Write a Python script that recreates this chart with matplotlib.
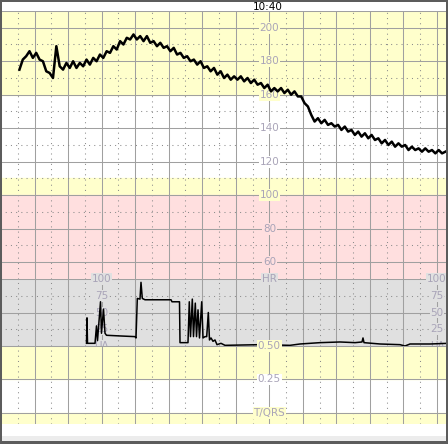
import numpy as np
import matplotlib.pyplot as plt
from matplotlib.patches import Rectangle

# fetal heart rate (bpm), sampled every 0.1 min from 0.55 min
fhr_start = 0.55
fhr_step = 0.1
fhr_bpm = [
    175, 181, 183, 186, 182, 185, 181, 180, 174, 173, 170, 189, 177, 175, 179, 176,
    180, 176, 179, 177, 181, 178, 182, 180, 184, 182, 186, 185, 189, 187, 192, 190,
    194, 193, 196, 193, 195, 192, 195, 191, 192, 189, 191, 188, 189, 186, 188, 184,
    185, 182, 183, 180, 181, 178, 180, 176, 177, 174, 176, 172, 174, 170, 172, 169,
    171, 169, 171, 168, 170, 167, 169, 166, 167, 164, 166, 162, 164, 162, 164, 161,
    163, 160, 162, 159, 159, 155, 153, 148, 144, 146, 143, 145, 142, 143, 141, 142,
    139, 141, 138, 139, 136, 138, 135, 137, 134, 136, 133, 134, 131, 133, 130, 132,
    129, 131, 129, 130, 127, 129, 127, 128, 126, 128, 126, 127, 125, 127, 125, 126,
]

# uterine activity
ua_min = [2.549, 2.564, 2.579, 2.803, 2.847, 2.877, 2.967, 2.996, 3.056, 3.101,
          3.146, 3.548, 3.995, 4.025, 4.064, 4.144, 4.174, 4.213, 4.293, 5.069,
          5.098, 5.322, 5.337, 5.575, 5.614, 5.650, 5.704, 5.739, 5.793, 5.829,
          5.874, 5.918, 5.984, 6.023, 6.082, 6.133, 6.181, 6.216, 6.261, 6.321,
          6.380, 6.440, 6.559, 6.679, 7.722, 8.617, 8.915, 9.511, 10.107, 10.555,
          10.763, 10.793, 10.823, 11.300, 11.896, 12.045, 12.195, 12.791, 13.327]
ua_val = [4, 42, 4, 4, 30, 8, 66, 19, 55, 19,
          16, 15, 14, 12, 71, 70, 95, 71, 69, 69,
          66, 66, 5, 5, 66, 14, 70, 14, 64, 14,
          54, 12, 66, 12, 14, 14, 50, 9, 12, 7,
          9, 2, 4, 1, 2, 1, 3, 5, 6, 5,
          6, 12, 5, 3, 2, 0, 3, 3, 4]

hr_ticks = [200, 180, 160, 140, 120, 100, 80, 60]
ua_ticks = [100, 75, 50, 25]
tqrs_ticks = [0.5, 0.25]
time_label = '10:40'

YELLOW = '#ffffcc'
PINK = '#ffdfdf'
GRAY = '#e0e0e0'
GRID = '#a0a0a0'
DOT = '#8c8c8c'
LABEL = '#a9a4b8'
BORDER = '#5c5c5c'

W, H = 448, 444
PX_MIN = 33.54  # pixels per minute

fig = plt.figure(figsize=(W / 100, H / 100), dpi=100)
fig.patch.set_facecolor('white')


def panel(top, bottom, ylim):
    ax = fig.add_axes([0, 1 - bottom / H, 1, (bottom - top) / H])
    ax.set_xlim(-1 / PX_MIN, 447 / PX_MIN)
    ax.set_ylim(*ylim)
    ax.axis('off')
    for m in range(14):
        ax.axvline(m, color=GRID, lw=0.75, zorder=1)
        ax.axvline(m + 0.5, color=DOT, lw=0.75, ls=(0, (1, 4)), zorder=1)
    return ax


def label(ax, x, y, s, bg):
    ax.text(x, y, s, ha='center', va='center', fontsize=7.5, color=LABEL, zorder=2,
            bbox=dict(facecolor=bg, edgecolor='none', pad=0.6))


# FHR panel
ax1 = panel(11, 279, (50, 210))
ax1.axhspan(160, 210, color=YELLOW, zorder=0)
ax1.axhspan(100, 110, color=YELLOW, zorder=0)
ax1.axhspan(50, 100, color=PINK, zorder=0)
for v in range(60, 211, 20):
    ax1.axhline(v, color=GRID, lw=0.75, zorder=1)
ax1.axhline(210, color=GRID, lw=0.75, zorder=1)
for v in range(70, 200, 20):
    ax1.axhline(v, color=DOT, lw=0.75, ls=(0, (1, 4)), zorder=1)
for v in hr_ticks:
    bg = YELLOW if v >= 160 or v in (100,) else (PINK if v < 100 else 'white')
    label(ax1, 8, v, str(v), bg)
fhr_t = fhr_start + fhr_step * np.arange(len(fhr_bpm))
ax1.plot(fhr_t, fhr_bpm, color='black', lw=1.8, zorder=3)

# UA panel
ax2 = panel(279, 346, (0, 100))
ax2.axhspan(0, 100, color=GRAY, zorder=0)
for v in (0, 50, 100):
    ax2.axhline(v, color=GRID, lw=0.75, zorder=1)
for v in (25, 75):
    ax2.axhline(v, color=DOT, lw=0.75, ls=(0, (1, 4)), zorder=1)
for x in (3, 13):
    for v in ua_ticks:
        label(ax2, x, v, str(v), GRAY)
    label(ax2, x, 0, 'UA', GRAY)
label(ax2, 8, 100, 'HR', GRAY)
ax2.plot(ua_min, ua_val, color='black', lw=1.1, zorder=3)

# T/QRS panel
ax3 = panel(346, 424, (-0.0821, 0.5))
ax3.axhspan(0.25, 0.5, color=YELLOW, zorder=0)
ax3.axhspan(-0.1, 0, color=YELLOW, zorder=0)
for v in (0, 0.25, 0.5):
    ax3.axhline(v, color=GRID, lw=0.75, zorder=1)
for v in tqrs_ticks:
    label(ax3, 8, v, '%.2f' % v, YELLOW if v == 0.5 else 'white')
label(ax3, 8, 0, 'T/QRS', YELLOW)

# header time and frame
fig.text(268 / W, 1 - 9.5 / H, time_label, ha='center', va='baseline', fontsize=7.5, color='black')
fig.add_artist(Rectangle((0, 3 / H), 1, 5 / H, transform=fig.transFigure,
                         facecolor='#ececec', edgecolor='none', zorder=10))
for xy, w, h in [((0, 0), 2 / W, 1), ((1 - 2 / W, 0), 2 / W, 1),
                 ((0, 1 - 2 / H), 1, 2 / H), ((0, 0), 1, 3 / H)]:
    fig.add_artist(Rectangle(xy, w, h, transform=fig.transFigure,
                             facecolor=BORDER, edgecolor='none', zorder=11))

plt.savefig('out.png', dpi=100)
